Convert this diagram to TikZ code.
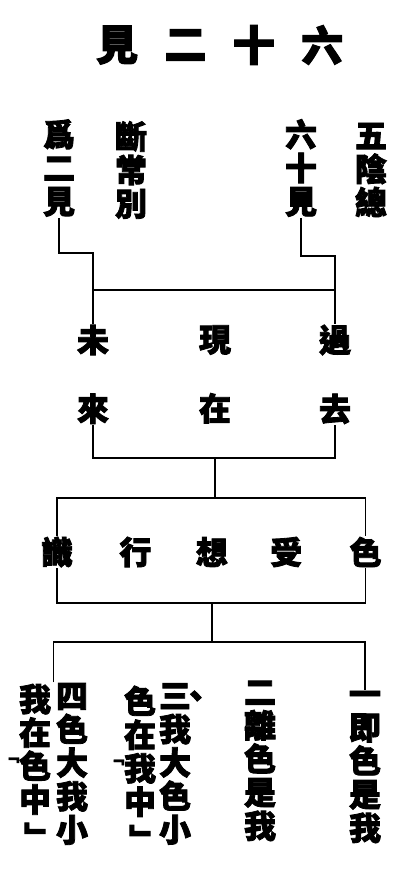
\documentclass[tikz,border=0pt]{standalone}
\usepackage{fontspec}
\newfontfamily\hanfont[FakeBold=2.5]{Noto Sans CJK TC}
\usetikzlibrary{positioning,calc}

\newcommand{\openmark}{\llap{\raisebox{0.5em}[0pt][0pt]{\fontsize{16}{16}\selectfont\rotatebox[origin=c]{-90}{「}}}}
\newcommand{\closemark}{\rotatebox[origin=c]{-90}{」}}

\begin{document}
\begin{tikzpicture}[x=1pt, y=-1pt,
        heading/.style={inner sep=1pt, font=\hanfont\bfseries\fontsize{42}{44}\selectfont},
        hanzi/.style={inner sep=1pt, font=\hanfont\bfseries\fontsize{32}{33.5}\selectfont},
        column/.style={hanzi, align=center},
        line/.style={draw, line width=1.5pt}]

        \useasboundingbox (0,0) rectangle (406,870);

        % title
        \node [heading] (tjian) at (117,45) {見};
        \node [heading, right=24pt of tjian] (ter) {二};
        \node [heading, right=24pt of ter] (tshi) {十};
        \node [heading, right=24pt of tshi] (tliu) {六};

        % top columns
        \node [column] (wer) at (59,168) {爲\\二\\見};
        \node [column] (duan) at (131,170) {斷\\常\\別};
        \node [column] (liu) at (301,168) {六\\十\\見};
        \node [column] (wuyin) at (371,170) {五\\陰\\總};

        % three times
        \node [hanzi] (wei) at (93,340) {未};
        \node [hanzi] (xian) at (215,340) {現};
        \node [hanzi] (guo) at (335,340) {過};
        \node [hanzi, below=36pt of wei] (lai) {來};
        \node [hanzi, below=36pt of xian] (zai) {在};
        \node [hanzi, below=36pt of guo] (qu) {去};

        % five skandhas
        \node [hanzi] (shi) at (57,552) {識};
        \node [hanzi, right=44pt of shi] (xing) {行};
        \node [hanzi, right=42pt of xing] (xiang) {想};
        \node [hanzi, right=40pt of xiang] (shou) {受};
        \node [hanzi, right=45pt of shou] (se) {色};

        % four views
        \node [column] (yi) at (365,767) {一\\即\\色\\是\\我};
        \node [column] (er) at (260,761) {二\\離\\色\\是\\我};
        \node [column] (sanA) at (175,764) {三\rlap{\kern-0.35em 、}\\我\\大\\色\\小};
        \node [column] (sanB) at (140,771) {色\\在\\\openmark 我\\中\\\closemark};
        \node [column] (siA) at (72,764) {四\\色\\大\\我\\小};
        \node [column] (siB) at (35,769) {我\\在\\\openmark 色\\中\\\closemark};

        \coordinate (pastbar) at (0,290);
        \coordinate (skandtop) at (0,498);
        \coordinate (skandbot) at (0,603);
        \coordinate (viewbar) at (0,642);
        \coordinate (fourmid) at ($(siA.north)!0.5!(siB.north)$);

        \path [line] (wer.south) -- ++(0,35) -| (wei.north);
        \path [line] (liu.south) -- ++(0,38) -| (guo.north);
        \path [line] (wei.north |- pastbar) -- (guo.north |- pastbar);

        \path [line] (lai.south) -- ++(0,33) coordinate (timebar) -| (qu.south);
        \path [line] (zai.south |- timebar) -- (zai.south |- skandtop);

        \path [line] (shi.north) -- (shi.north |- skandtop) -- (se.north |- skandtop) -- (se.north);
        \path [line] (shi.south) -- (shi.south |- skandbot) -- (se.south |- skandbot) -- (se.south);
        \path [line] (xiang.south |- skandbot) -- (xiang.south |- viewbar);

        \path [line] (fourmid) -- (fourmid |- viewbar) -- (yi.north |- viewbar) -- (yi.north);

    \end{tikzpicture}
\end{document}
